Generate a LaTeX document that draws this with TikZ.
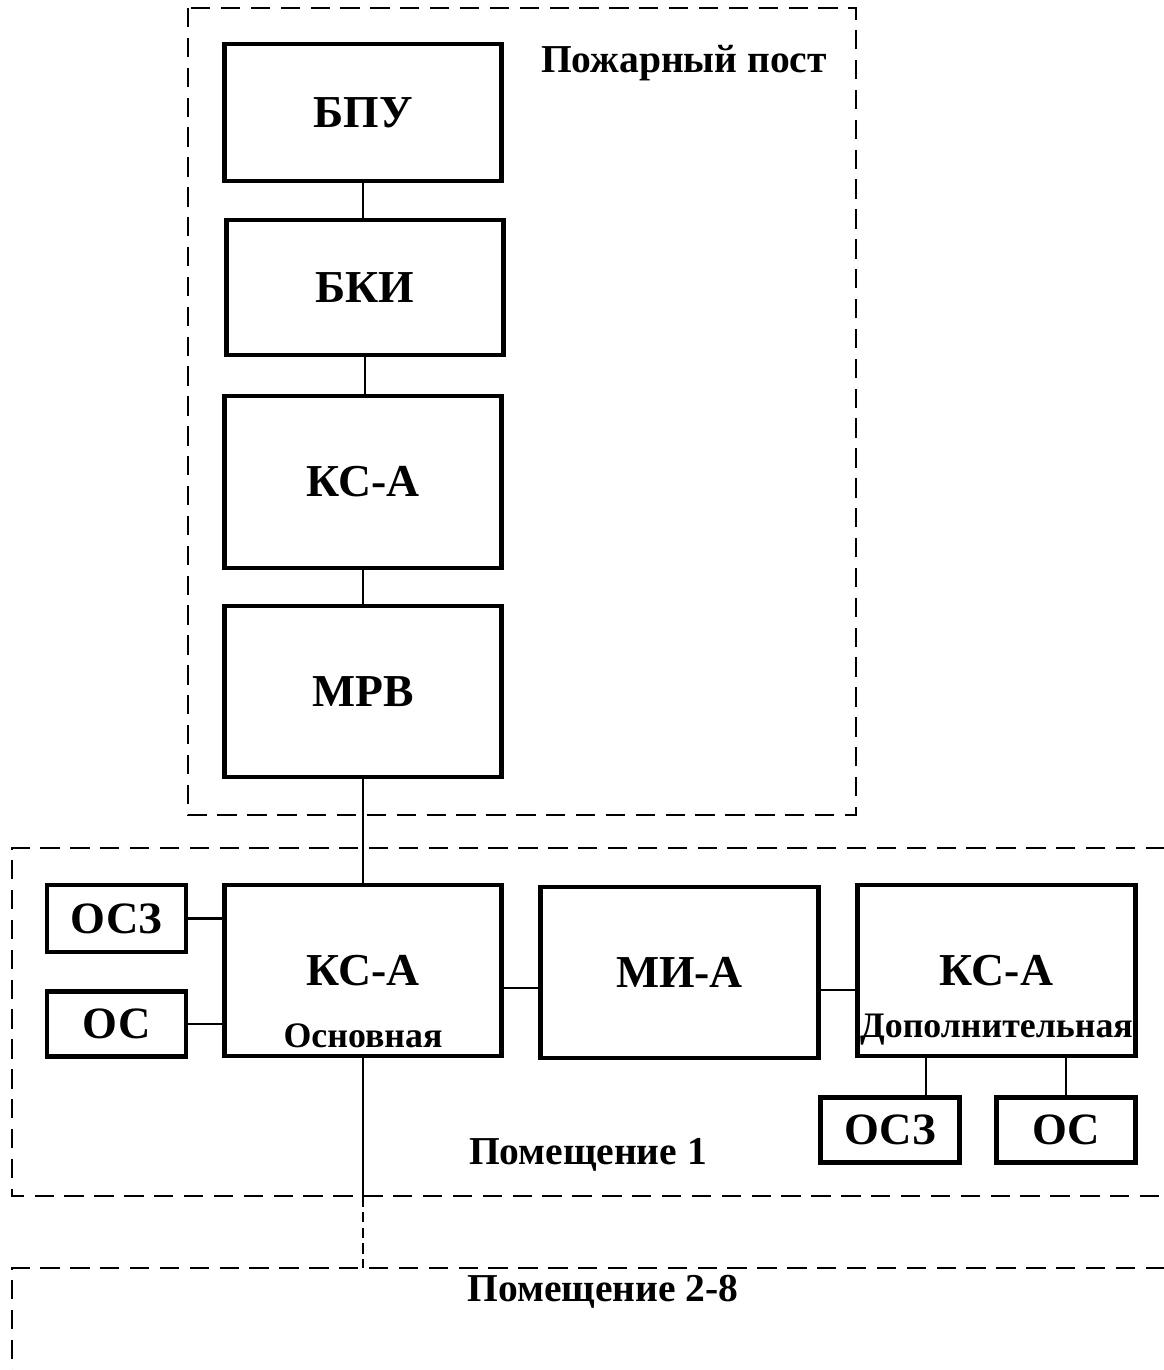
\documentclass[tikz,border=0pt]{standalone}
\usepackage{fontspec}
\setmainfont{Liberation Serif}
\usetikzlibrary{positioning}

\tikzset{
  blok/.style={draw, line width=2.6pt, minimum width=5.55cm, inner sep=0pt, font=\fontsize{26}{28}\selectfont\bfseries},
  malyj/.style={draw, line width=2.6pt, minimum width=2.78cm, minimum height=1.3cm, inner sep=0pt, font=\fontsize{25.5}{28}\selectfont\bfseries},
  podpis/.style={font=\fontsize{20.4}{22}\selectfont\bfseries, inner sep=0pt},
  zona/.style={font=\fontsize{22.5}{24}\selectfont\bfseries},
  svyaz/.style={line width=1.3pt},
  ramka/.style={line width=1.6pt, dash pattern=on 11pt off 6pt},
}

\begin{document}
\begin{tikzpicture}
\useasboundingbox (0,0) rectangle (23.26,-27.4);

% Пожарный пост
\draw[ramka] (3.76,-0.16) rectangle (17.12,-16.30);
\node[zona] (post) at (13.68,-1.26) {Пожарный пост};

\node[blok, minimum height=2.74cm] (bpu) at (7.26,-2.25) {БПУ};
\node[blok, minimum height=2.70cm] (bki) at (7.30,-5.75) {БКИ};
\node[blok, minimum height=3.44cm] (ksa) at (7.26,-9.64) {КС-А};
\node[blok, minimum height=3.42cm] (mrv) at (7.26,-13.83) {МРВ};

\draw[svyaz] (bpu.south) -- (bpu.south |- bki.north);
\draw[svyaz] (bki.south) -- (bki.south |- ksa.north);
\draw[svyaz] (ksa.south) -- (mrv.north);

% Помещение 1
\draw[ramka] (23.3,-16.96) -- (0.24,-16.96) -- (0.24,-23.92) -- (23.3,-23.92);
\node[zona] (pom1) at (11.76,-23.10) {Помещение 1};

\node[blok, minimum height=3.42cm] (ksam) at (7.26,-19.41) {КС-А};
\node[podpis, above=0.2cm] (ksamsub) at (ksam.south) {Основная};
\node[blok, minimum height=3.42cm] (mia) at (13.59,-19.45) {МИ-А};
\node[blok, minimum height=3.42cm] (ksad) at (19.93,-19.41) {КС-А};
\node[podpis, above=0.26cm] (ksadsub) at (ksad.south) {Дополнительная};

\node[malyj, minimum height=1.34cm] (osz1) at (2.33,-18.37) {ОСЗ};
\node[malyj] (os1) at (2.33,-20.48) {ОС};
\node[malyj] (osz2) at (17.80,-22.60) {ОСЗ};
\node[malyj] (os2) at (21.32,-22.60) {ОС};

\draw[svyaz] (mrv.south) -- (mrv.south |- ksam.north);
\draw[svyaz] (osz1.east) -- (osz1.east -| ksam.west);
\draw[svyaz] (os1.east) -- (os1.east -| ksam.west);
\draw[svyaz] ([yshift=-0.35cm]ksam.east) -- ([yshift=-0.35cm]ksam.east -| mia.west);
\draw[svyaz] ([yshift=-0.35cm]mia.east) -- ([yshift=-0.35cm]mia.east -| ksad.west);
\coordinate (osz2top) at ([xshift=0.72cm]osz2.north);
\draw[svyaz] (osz2top) -- (osz2top |- ksad.south);
\draw[svyaz] (os2.north) -- (os2.north |- ksad.south);

% Помещение 2-8
\draw[ramka] (23.3,-25.36) -- (0.24,-25.36) -- (0.24,-27.5);
\node[zona] (pom2) at (12.06,-25.84) {Помещение 2-8};

\coordinate (niz1) at (7.26,-23.92);
\coordinate (niz2) at (7.26,-25.36);
\draw[svyaz] (ksam.south) -- (niz1);
\draw[svyaz, dash pattern=on 6pt off 3pt] (niz1) -- (niz2);

\end{tikzpicture}
\end{document}
